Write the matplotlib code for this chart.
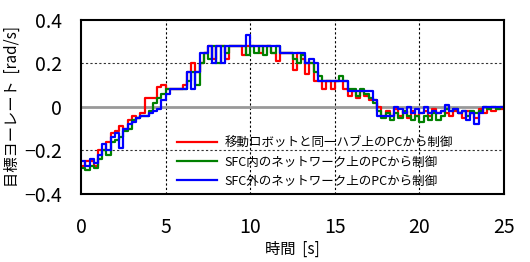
import numpy as np
import matplotlib.pyplot as plt

plt.rcParams['font.family'] = ['Noto Sans CJK JP', 'DejaVu Sans']

# sample times (s), one value every 0.25 s
t = np.arange(0, 25.01, 0.25)

red = [-0.27, -0.25, -0.25, -0.27, -0.20, -0.20, -0.16, -0.12, -0.11, -0.09,
       -0.10, -0.06, -0.04, -0.05, -0.03, 0.04, 0.04, 0.04, 0.09, 0.10,
       0.08, 0.08, 0.08, 0.08, 0.10, 0.16, 0.20, 0.16, 0.20, 0.25,
       0.28, 0.22, 0.28, 0.28, 0.22, 0.28, 0.28, 0.28, 0.24, 0.28,
       0.28, 0.28, 0.25, 0.28, 0.28, 0.25, 0.21, 0.25, 0.25, 0.25,
       0.17, 0.25, 0.22, 0.15, 0.20, 0.12, 0.12, 0.08, 0.12, 0.08,
       0.12, 0.12, 0.08, 0.05, 0.075, 0.04, 0.075, 0.05, 0.03, 0.03,
       0.0, -0.04, -0.02, -0.04, -0.01, -0.04, -0.02, -0.05, -0.02, -0.04,
       -0.03, -0.02, -0.04, -0.01, -0.03, -0.02, -0.03, -0.04, -0.02, -0.03,
       -0.05, -0.02, -0.03, -0.05, -0.01, -0.03, -0.01, -0.02, -0.01, -0.01,
       0.0]

green = [-0.28, -0.29, -0.27, -0.28, -0.24, -0.20, -0.22, -0.16, -0.15, -0.14,
         -0.11, -0.10, -0.06, -0.05, -0.04, -0.04, -0.02, 0.02, 0.04, 0.06,
         0.08, 0.08, 0.08, 0.08, 0.08, 0.12, 0.16, 0.10, 0.20, 0.25,
         0.22, 0.28, 0.20, 0.28, 0.25, 0.28, 0.28, 0.28, 0.28, 0.24,
         0.28, 0.25, 0.28, 0.24, 0.28, 0.25, 0.28, 0.25, 0.25, 0.25,
         0.22, 0.20, 0.24, 0.20, 0.20, 0.16, 0.14, 0.12, 0.12, 0.12,
         0.12, 0.14, 0.12, 0.08, 0.08, 0.05, 0.08, 0.06, 0.04, 0.02,
         -0.02, -0.05, -0.03, -0.06, -0.03, -0.05, -0.02, -0.04, -0.06, -0.04,
         -0.07, -0.04, -0.06, -0.03, -0.06, -0.04, -0.01, -0.02, -0.01, -0.03,
         -0.02, -0.04, -0.02, -0.03, -0.02, 0.0, -0.01, 0.0, -0.01, 0.0,
         0.0]

blue = [-0.25, -0.27, -0.24, -0.26, -0.22, -0.17, -0.20, -0.14, -0.12, -0.19,
        -0.10, -0.08, -0.07, -0.05, -0.04, -0.04, -0.03, -0.02, -0.01, 0.03,
        0.06, 0.08, 0.08, 0.08, 0.08, 0.16, 0.08, 0.16, 0.25, 0.25,
        0.28, 0.20, 0.28, 0.20, 0.28, 0.28, 0.28, 0.28, 0.28, 0.33,
        0.28, 0.28, 0.28, 0.28, 0.28, 0.28, 0.28, 0.25, 0.25, 0.25,
        0.25, 0.25, 0.25, 0.20, 0.22, 0.20, 0.12, 0.12, 0.12, 0.12,
        0.12, 0.12, 0.12, 0.075, 0.075, 0.075, 0.075, 0.075, 0.075, 0.03,
        -0.04, -0.04, -0.04, -0.04, 0.0, -0.01, -0.03, 0.0, -0.03, -0.01,
        -0.03, 0.0, -0.03, -0.02, -0.03, -0.02, 0.01, -0.02, -0.01, -0.03,
        -0.02, -0.06, -0.03, -0.08, -0.03, 0.0, 0.0, 0.0, 0.0, 0.0,
        0.0]

labels = ['移動ロボットと同一ハブ上のPCから制御',
          'SFC内のネットワーク上のPCから制御',
          'SFC外のネットワーク上のPCから制御']
colors = ['#ff0000', '#008000', '#0000ff']

fig = plt.figure(figsize=(5.3, 2.62), dpi=100)
ax = fig.add_axes([0.153, 0.260, 0.798, 0.664])

for y, c, lab in zip([red, green, blue], colors, labels):
    ax.plot(t, y, drawstyle='steps-post', color=c, lw=1.6, label=lab)

ax.set_xlim(0, 25)
ax.set_ylim(-0.4, 0.4)
ax.set_xticks([0, 5, 10, 15, 20, 25])
ax.set_yticks([-0.4, -0.2, 0, 0.2, 0.4])
ax.set_yticklabels(['−0.4', '−0.2', '0', '0.2', '0.4'])

for x in [5, 10, 15, 20]:
    ax.axvline(x, color='black', lw=0.8, ls=(0, (2, 2)), zorder=0)
for y in [-0.2, 0.2]:
    ax.axhline(y, color='#333333', lw=0.8, ls=(0, (2, 2)), zorder=0)
ax.axhline(0, color='#999999', lw=2, zorder=0)

ax.tick_params(length=0, labelsize=14)
ax.tick_params(axis='y', pad=14)
ax.tick_params(axis='x', pad=17)
for s in ax.spines.values():
    s.set_linewidth(1.5)

ax.set_xlabel('時間  [s]', fontsize=11, labelpad=2)
ax.set_ylabel('目標ヨーレート  [rad/s]', fontsize=11, labelpad=2)

leg = ax.legend(loc='lower left', bbox_to_anchor=(0.2, -0.03), frameon=False,
                fontsize=9, handlelength=3.2, labelspacing=0.5,
                handletextpad=0.6)

fig.savefig('out.png', dpi=100)
